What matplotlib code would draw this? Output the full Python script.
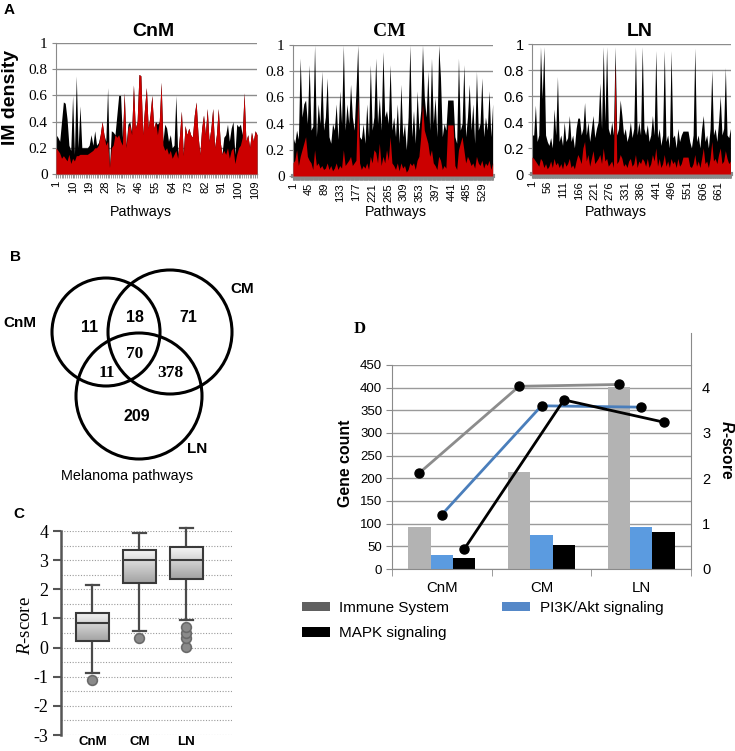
import numpy as np
import matplotlib
matplotlib.use('Agg')
import matplotlib.pyplot as plt
from matplotlib.patches import Circle, Patch
from matplotlib.lines import Line2D
from matplotlib.colors import LinearSegmentedColormap

plt.rcParams['font.family'] = ['Liberation Sans', 'DejaVu Sans']
plt.rcParams['mathtext.fontset'] = 'custom'
plt.rcParams['mathtext.it'] = 'Liberation Serif:italic'
plt.rcParams['mathtext.rm'] = 'Liberation Serif'
plt.rcParams['mathtext.bfit'] = 'Liberation Sans:italic:bold'

# ---------------- DATA ----------------
# Panel A: IM density per pathway (black = behind, red = front)
cnm_black = [.30, .28, .25, .40, .55, .54, .42, .22, .18, .60,
             .15, .75, .20, .52, .20, .20, .20, .20, .22, .30,
             .22, .33, .22, .24, .30, .40, .30, .25, .66, .05,
             .33, .32, .30, .45, .60, .60, .28, .62, .22, .38,
             .40, .32, .68, .35, .40, .76, .75, .30, .50, .66,
             .35, .45, .60, .35, .40, .38, .40, .70, .25, .38,
             .35, .25, .30, .20, .22, .60, .15, .30, .48, .15,
             .37, .30, .35, .30, .28, .45, .55, .30, .15, .35,
             .45, .30, .50, .25, .35, .50, .20, .30, .50, .25,
             .15, .28, .30, .38, .25, .35, .40, .15, .38, .36,
             .38, .30, .62, .25, .30, .20, .32, .25, .33, .30]
cnm_red = [.20, .18, .16, .12, .14, .12, .10, .15, .08, .12,
           .10, .14, .14, .15, .15, .15, .15, .15, .16, .17,
           .18, .20, .20, .22, .30, .40, .30, .22, .25, .05,
           .20, .22, .30, .28, .30, .25, .22, .62, .20, .35,
           .38, .30, .68, .35, .40, .76, .75, .30, .50, .66,
           .35, .45, .60, .35, .40, .30, .40, .70, .22, .18,
           .20, .15, .18, .12, .15, .18, .12, .30, .48, .14,
           .37, .30, .35, .30, .28, .45, .55, .30, .15, .35,
           .45, .30, .50, .25, .35, .50, .20, .30, .50, .25,
           .15, .18, .15, .20, .12, .18, .20, .08, .15, .20,
           .22, .28, .62, .25, .30, .20, .32, .25, .33, .30]
cm_black = [.30, .25, .35, .28, .90, .45, .55, .58, .40, .85,
            .35, .38, 1.0, .30, .55, .40, .80, .35, .45, .75,
            .30, .25, .40, .35, .55, .28, .65, .40, 1.0, .35,
            .55, .40, .70, .45, .35, .65, 1.0, .30, .28, .40,
            .25, .55, .30, .85, .35, .45, .90, .40, .60, .35,
            .95, .45, .50, .40, .85, .35, .45, .30, .55, .25,
            .70, .30, .40, .20, .45, 1.0, .30, .50, .25, .65,
            .35, .50, 1.0, .60, .45, .80, .35, .90, .40, .60,
            .30, 1.0, .75, .30, .40, .35, .58, .58, .58, .58,
            .30, .25, .90, .35, .40, .85, .30, .45, .70, .35,
            .55, .25, .80, .35, .40, .75, .30, .45, .35, .65,
            .30, .55]
cm_red = [.10, .12, .20, .08, .15, .20, .25, .30, .15, .12,
          .10, .05, .20, .08, .10, .06, .08, .05, .06, .10,
          .05, .08, .04, .06, .10, .05, .08, .06, .20, .08,
          .10, .12, .15, .08, .10, .12, .60, .10, .05, .08,
          .06, .10, .05, .15, .10, .20, .18, .10, .25, .08,
          .15, .10, .20, .12, .30, .10, .08, .05, .10, .04,
          .10, .06, .08, .03, .05, .10, .08, .10, .05, .12,
          .15, .30, .55, .35, .30, .25, .15, .20, .10, .08,
          .05, .15, .12, .05, .08, .06, .39, .39, .39, .39,
          .08, .05, .20, .25, .30, .20, .10, .15, .12, .08,
          .10, .06, .15, .10, .08, .12, .06, .10, .08, .12,
          .05, .10]
ln_black = [.30, .30, .53, .25, .30, .98, .58, .98, .30, .25,
            .22, .28, .20, .50, .30, .75, .25, .30, .22, .40,
            .25, .28, .45, .25, .30, .20, .35, .43, .43, .30,
            .35, .55, .30, .40, .25, .35, .45, .28, .35, .40,
            .70, .35, .98, .40, .98, .35, .30, .40, .30, .98,
            .30, .35, .57, .45, .30, .35, .25, .30, .40, .28,
            .35, .98, .30, .40, .30, .98, .35, .30, .38, .25,
            .30, .45, .30, .95, .28, .35, .22, .30, .95, .25,
            .30, .20, .95, .28, .30, .20, .35, .25, .30, .33,
            .33, .33, .33, .25, .20, .30, .97, .25, .30, .20,
            .35, .45, .25, .30, .20, .35, .80, .30, .35, .25,
            .40, .60, .30, .35, .82, .30, .28, .35]
ln_red = [.13, .12, .10, .08, .06, .12, .10, .05, .08, .04,
          .06, .10, .05, .12, .07, .09, .05, .08, .04, .10,
          .06, .08, .12, .05, .07, .04, .10, .15, .12, .08,
          .20, .25, .10, .15, .06, .12, .18, .08, .10, .12,
          .15, .08, .20, .10, .12, .06, .08, .10, .05, .85,
          .08, .10, .15, .12, .06, .08, .05, .10, .12, .06,
          .08, .15, .05, .10, .08, .12, .10, .06, .12, .05,
          .08, .15, .10, .20, .06, .12, .05, .08, .15, .06,
          .10, .05, .12, .08, .10, .05, .12, .06, .08, .13,
          .13, .13, .13, .06, .05, .08, .15, .06, .10, .05,
          .12, .20, .08, .10, .05, .12, .25, .10, .12, .08,
          .15, .20, .08, .10, .18, .12, .08, .10]
cnm_n, cm_n, ln_n = 110, 557, 705          # number of pathways per group
cnm_step, cm_step, ln_step = 1, 5, 6       # pathway spacing of the read values
a_ytick_labels = ['0', '0.2', '0.4', '0.6', '0.8', '1']

# Panel B: Venn counts
venn_sets = ['CnM', 'CM', 'LN']
venn_regions = ['CnM only', 'CnM&CM', 'CM only', 'all', 'CnM&LN', 'CM&LN', 'LN only']
venn_counts = [11, 18, 71, 70, 11, 378, 209]

# Panel C: R-score box plots
box_groups = ['CnM', 'CM', 'LN']
box_whislo = [-0.88, 0.58, 0.95]
box_q1 = [0.21, 2.22, 2.37]
box_med = [0.86, 3.02, 3.00]
box_q3 = [1.20, 3.35, 3.46]
box_whishi = [2.14, 3.92, 4.11]
box_fliers = [[-1.12], [0.34], [0.03, 0.34, 0.51, 0.69]]

# Panel D: gene counts and R-scores
d_groups = ['CnM', 'CM', 'LN']
d_series = ['Immune System', 'PI3K/Akt signaling', 'MAPK signaling']
gene_immune = [92, 214, 402]
gene_pi3k = [31, 76, 92]
gene_mapk = [25, 53, 81]
r_immune = [2.12, 4.03, 4.07]
r_pi3k = [1.20, 3.60, 3.57]
r_mapk = [0.44, 3.73, 3.24]

# ---------------- FIGURE ----------------
W, H = 735, 751
fig = plt.figure(figsize=(W / 100, H / 100), dpi=100)


def px_axes(left, top, right, bottom):
    return fig.add_axes([left / W, 1 - bottom / H, (right - left) / W, (bottom - top) / H])


def ftext(x, y, s, **kw):
    return fig.text(x / W, 1 - y / H, s, **kw)


# ---------------- Panel A ----------------
def density(ax, black, red, step, n, tick_step, yfam, ysize, thick):
    x = np.arange(1, 1 + step * len(black), step)
    ax.fill_between(x, 0, black, color='black', lw=0, zorder=2)
    ax.fill_between(x, 0, red, color='#cc0000', lw=0, zorder=3)
    ax.set_xlim(1, n)
    ax.set_ylim(0, 1)
    ax.set_yticks(np.linspace(0, 1, 6))
    ax.set_yticklabels(a_ytick_labels, family=yfam, fontsize=ysize)
    ticks = np.arange(1, n + 1, tick_step)
    ax.set_xticks(ticks)
    ax.set_xticklabels([str(t) for t in ticks], rotation=90, fontsize=8)
    ax.set_xticks(np.arange(1, n + 1), minor=True)
    ax.tick_params(axis='x', which='both', length=3, color='#8a8a8a', pad=2)
    ax.tick_params(axis='y', length=3, color='#8a8a8a', pad=3)
    ax.yaxis.grid(True, color='#8c8c8c', lw=1)
    ax.set_axisbelow(True)
    for s in ['top', 'right']:
        ax.spines[s].set_visible(False)
    ax.spines['left'].set_color('#8a8a8a')
    ax.spines['bottom'].set_color('#8a8a8a')
    ax.spines['bottom'].set_linewidth(3 if thick else 1)


ax1 = px_axes(56, 43, 257, 174)
density(ax1, cnm_black, cnm_red, cnm_step, cnm_n, 9, 'Liberation Serif', 11, False)
ax2 = px_axes(293, 45, 493, 176)
density(ax2, cm_black, cm_red, cm_step, cm_n, 44, 'Liberation Serif', 11, True)
ax3 = px_axes(532, 44, 731, 174)
density(ax3, ln_black, ln_red, ln_step, ln_n, 55, 'Liberation Sans', 10.5, True)

ftext(153, 31, 'CnM', fontsize=14, fontweight='bold', ha='center', va='center')
ftext(389, 32, 'CM', fontsize=14, fontweight='bold', ha='center', va='center', family='Liberation Serif')
ftext(640, 31, 'LN', fontsize=14, fontweight='bold', ha='center', va='center')
for cx in (141, 396, 616):
    ftext(cx, 212, 'Pathways', fontsize=10.3, ha='center', va='center')
ftext(11, 97, 'IM density', fontsize=14, fontweight='bold', rotation=90, ha='center', va='center')
ftext(9, 10, 'A', fontsize=11, fontweight='bold', ha='center', va='center')

# ---------------- Panel B ----------------
axb = px_axes(0, 230, 300, 500)
axb.set_xlim(0, 300)
axb.set_ylim(500, 230)
axb.axis('off')
circles = [(106, 332, 54), (170, 332, 62), (139, 396, 63)]
for cx, cy, r in circles:
    axb.add_patch(Circle((cx, cy), r, fill=False, lw=2.2, ec='black'))
set_label_pos = [(20, 323), (242, 289), (197, 449)]
for name, (x, y) in zip(venn_sets, set_label_pos):
    axb.text(x, y, name, fontsize=11, fontweight='bold', ha='center', va='center')
region_pos = [(90, 327), (135, 317), (188, 317), (135, 354), (107, 373), (170, 373), (137, 416)]
region_serif = [False, False, False, True, True, True, False]
for cnt, (x, y), serif in zip(venn_counts, region_pos, region_serif):
    axb.text(x, y, str(cnt), fontsize=12.5 if serif else 11.5, fontweight='bold',
             ha='center', va='center', family='Liberation Serif' if serif else 'Liberation Sans')
axb.text(127, 476, 'Melanoma pathways', fontsize=10.4, ha='center', va='center')
ftext(16, 257, 'B', fontsize=11, fontweight='bold', ha='center', va='center')

# ---------------- Panel C ----------------
axc = px_axes(61, 531, 232, 735)
stats = [dict(label=g, whislo=a, q1=b, med=c, q3=d, whishi=e, fliers=f)
         for g, a, b, c, d, e, f in zip(box_groups, box_whislo, box_q1, box_med,
                                        box_q3, box_whishi, box_fliers)]
positions = np.arange(1, len(box_groups) + 1)
bw = 0.7
bp = axc.bxp(stats, positions=positions, widths=bw, patch_artist=True,
             boxprops=dict(edgecolor='#3a3a3a', lw=1.5, facecolor='none', zorder=4),
             medianprops=dict(color='#3a3a3a', lw=1.5, zorder=5),
             whiskerprops=dict(color='#4a4a4a', lw=1.6),
             capprops=dict(color='#4a4a4a', lw=1.6),
             flierprops=dict(marker='o', markersize=7, markerfacecolor='#8a8a8a',
                             markeredgecolor='#6a6a6a', markeredgewidth=1.2),
             capwidths=0.28)
cmap = LinearSegmentedColormap.from_list('g', ['#a2a2a2', '#f6f6f6'])
grad = np.linspace(1, 0, 256).reshape(-1, 1)
for patch, pos, q1, q3 in zip(bp['boxes'], positions, box_q1, box_q3):
    im = axc.imshow(grad, extent=[pos - bw / 2, pos + bw / 2, q1, q3], cmap=cmap,
                    vmin=0, vmax=1, aspect='auto', origin='upper', zorder=3,
                    interpolation='bilinear')
    im.set_clip_path(patch)
for key in bp:
    for art in bp[key]:
        art.set_clip_on(False)
axc.set_xlim(0.33, 3.97)
axc.set_ylim(-3, 4)
axc.set_aspect('auto')
axc.set_yticks(range(-3, 5))
axc.set_yticklabels([str(v) for v in range(-3, 5)], family='Liberation Serif', fontsize=13)
axc.set_yticks(np.arange(-3, 4.01, 0.5), minor=True)
axc.yaxis.grid(True, which='both', ls=(0, (1, 1.5)), color='#9a9a9a', lw=0.8)
axc.set_axisbelow(True)
axc.tick_params(axis='y', which='major', length=6, width=1.5, color='#555555', pad=3)
axc.tick_params(axis='y', which='minor', length=0)
axc.tick_params(axis='x', length=0, pad=0.5)
for lbl in axc.get_xticklabels():
    lbl.set_fontweight('bold')
    lbl.set_fontsize(9.5)
for s in ['top', 'right', 'bottom']:
    axc.spines[s].set_visible(False)
axc.spines['left'].set_color('#555555')
axc.spines['left'].set_linewidth(1.8)
ftext(25, 626, r'$\mathit{R}$-score', fontsize=13.5, family='Liberation Serif',
      rotation=90, ha='center', va='center')
ftext(19, 514, 'C', fontsize=11, fontweight='bold', ha='center', va='center')

# ---------------- Panel D ----------------
axd = px_axes(392, 365, 691, 569)
xc = np.arange(len(d_groups))
w = 0.225
axd.bar(xc - w, gene_immune, w, color='#b3b3b3', zorder=2)
axd.bar(xc, gene_pi3k, w, color='#5b9be0', zorder=2)
axd.bar(xc + w, gene_mapk, w, color='black', zorder=2)
axd.set_xlim(-0.5, 2.5)
axd.set_ylim(0, 450)
axd.set_yticks(range(0, 451, 50))
axd.tick_params(axis='y', labelsize=9.5, length=4, color='#8a8a8a', pad=3)
axd.set_xticks(xc)
axd.set_xticklabels(d_groups, fontsize=10.8)
axd.set_xticks([-0.5, 0.5, 1.5, 2.5], minor=True)
axd.tick_params(axis='x', which='major', length=0, pad=9)
axd.tick_params(axis='x', which='minor', length=5, color='#8a8a8a')
axd.yaxis.grid(True, color='#9a9a9a', lw=1)
axd.set_axisbelow(True)
for s in ['top', 'right']:
    axd.spines[s].set_visible(False)
axd.spines['left'].set_color('#8a8a8a')
axd.spines['bottom'].set_color('#8a8a8a')

axr = axd.twinx()
axr.set_ylim(0, 4.5)
axr.set_yticks(range(0, 5))
axr.tick_params(axis='y', labelsize=10.5, length=0, pad=8)
for s in ['top', 'left', 'bottom']:
    axr.spines[s].set_visible(False)
axr.spines['right'].set_color('#8a8a8a')
axr.add_line(Line2D([1, 1], [1, 1.157], transform=axr.transAxes, color='#8a8a8a',
                    lw=0.8, clip_on=False))
for vals, col, off in [(r_immune, '#8c8c8c', -w), (r_pi3k, '#4a7ebb', 0), (r_mapk, 'black', w)]:
    axr.plot(xc + off, vals, color=col, lw=2, marker='o', ms=6.5, mfc='black',
             mec='black', clip_on=False, zorder=3)

ftext(345, 463, 'Gene count', fontsize=11.4, fontweight='bold', rotation=90, ha='center', va='center')
ftext(727, 450, r'$\mathbfit{R}$-score', fontsize=11.2, fontweight='bold', rotation=270,
      ha='center', va='center')
ftext(360, 329, 'D', fontsize=12, fontweight='bold', family='Liberation Serif', ha='center', va='center')

handles = [Patch(fc='#606060'), Patch(fc='black'), Patch(fc='#5588c8')]
labels = [d_series[0], d_series[2], d_series[1]]
fig.legend(handles, labels, ncol=2, loc='upper left', bbox_to_anchor=(302 / W, 1 - 601 / H),
           frameon=False, fontsize=11, handlelength=1.85, handleheight=0.55,
           handletextpad=0.6, columnspacing=3.45, labelspacing=0.75, borderpad=0,
           borderaxespad=0)

fig.savefig('out.png', dpi=100)
